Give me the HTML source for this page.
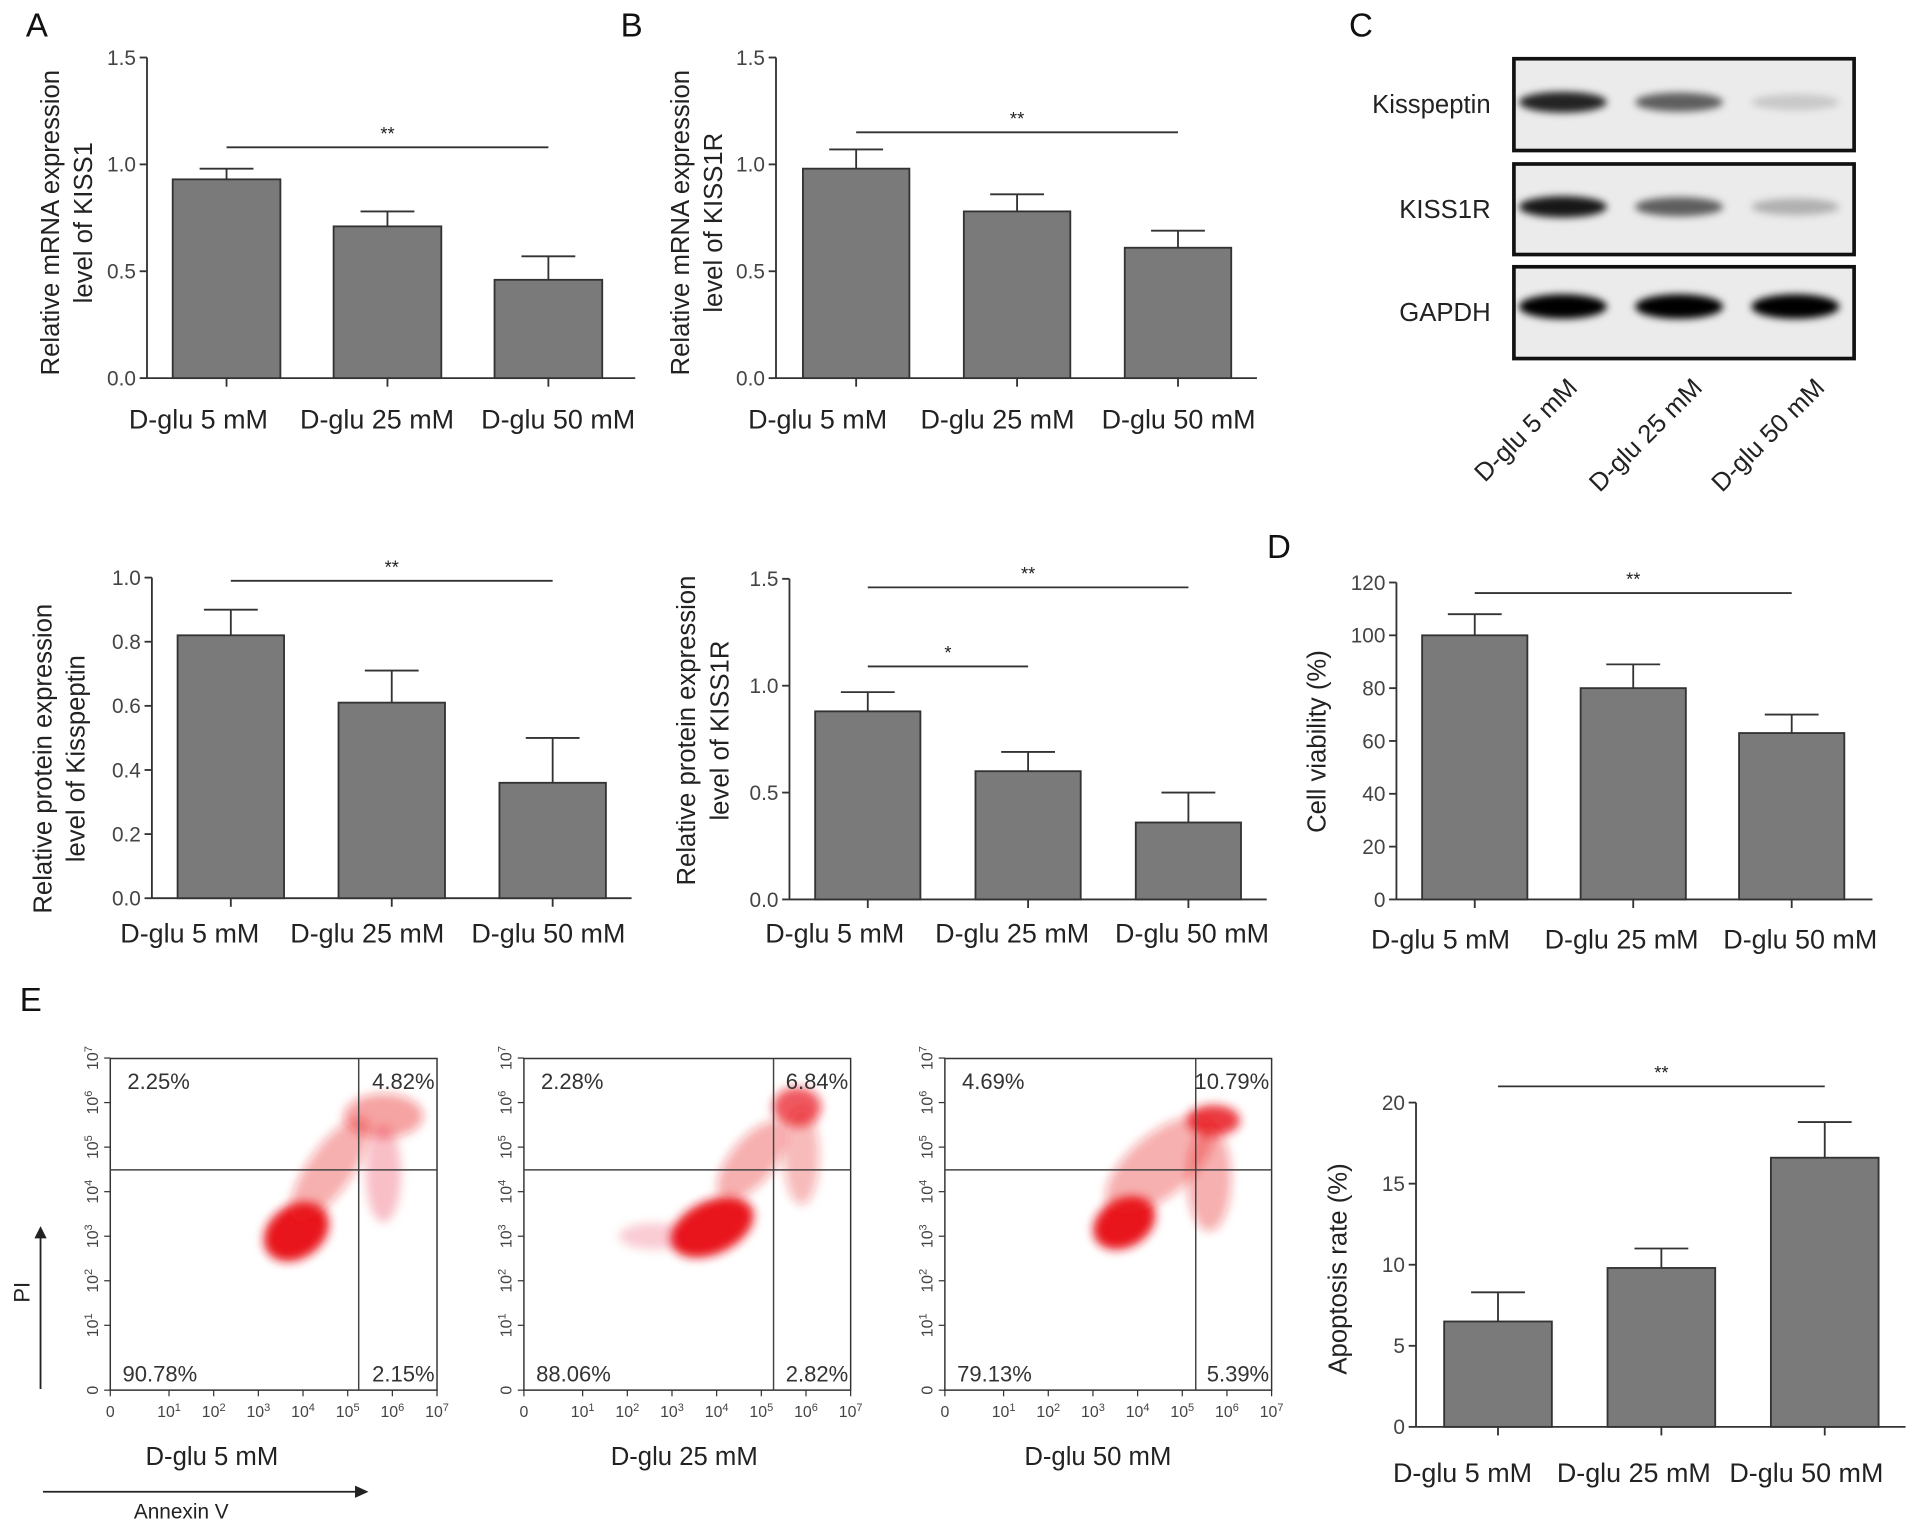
<!DOCTYPE html>
<html><head><meta charset="utf-8"><style>
html,body{margin:0;padding:0;background:#fff;}
svg{display:block;font-family:"Liberation Sans",Arial,sans-serif;}
</style></head><body>
<svg id="fig" width="1913" height="1526" viewBox="0 0 1563 1247" xmlns="http://www.w3.org/2000/svg">
<defs>
<filter id="blur6" x="-50%" y="-50%" width="200%" height="200%"><feGaussianBlur stdDeviation="4"/></filter>
<filter id="blur3" x="-50%" y="-50%" width="200%" height="200%"><feGaussianBlur stdDeviation="3"/></filter>
</defs>
<g id="root"></g>
</svg>
<script>
// ===== data =====
const categories = ["D-glu 5 mM","D-glu 25 mM","D-glu 50 mM"];
const kiss1Mrna = [0.93,0.71,0.46];
const kiss1MrnaErr = [0.98,0.78,0.57];
const kiss1rMrna = [0.98,0.78,0.61];
const kiss1rMrnaErr = [1.07,0.86,0.69];
const kissProt = [0.82,0.61,0.36];
const kissProtErr = [0.90,0.71,0.50];
const kiss1rProt = [0.88,0.60,0.36];
const kiss1rProtErr = [0.97,0.69,0.50];
const viability = [100,80,63];
const viabilityErr = [108,89,70];
const apoptosis = [6.5,9.8,16.6];
const apoptosisErr = [8.3,11.0,18.8];
const ticks15 = ["0.0","0.5","1.0","1.5"];
const ticks10 = ["0.0","0.2","0.4","0.6","0.8","1.0"];
const ticks120 = ["0","20","40","60","80","100","120"];
const ticks20 = ["0","5","10","15","20"];
const blotProteins = ["Kisspeptin","KISS1R","GAPDH"];
const kissBand = [0.85,0.6,0.15];
const kiss1rBand = [0.9,0.6,0.25];
const gapdhBand = [1.0,1.0,1.0];
const flowQuadrants = [["2.25%","4.82%","90.78%","2.15%"],["2.28%","6.84%","88.06%","2.82%"],["4.69%","10.79%","79.13%","5.39%"]];
// clusters: [x decade, y decade, spread x, spread y, rotation, opacity]
const flowClusters1 = [[3.85,3.1,0.8,0.6,-35,1],[4.6,4.5,1.4,0.5,-55,0.35],[5.8,5.7,0.9,0.5,0,0.4],[5.8,4.4,0.4,1.1,0,0.25]];
const flowClusters2 = [[3.9,3.2,1.0,0.6,-25,1],[5.8,5.9,0.55,0.45,0,0.7],[4.8,4.7,1.1,0.5,-50,0.35],[2.6,3.0,0.8,0.3,0,0.2],[5.9,4.8,0.4,1.1,0,0.3]];
const flowClusters3 = [[3.7,3.3,0.75,0.55,-30,1],[5.7,5.6,0.6,0.35,0,0.85],[4.5,4.6,1.5,0.7,-40,0.35],[5.6,4.3,0.5,1.2,0,0.35]];
const flowTitles = ["D-glu 5 mM","D-glu 25 mM","D-glu 50 mM"];
const decadeLabels = ["0","1","2","3","4","5","6","7"];

const NS="http://www.w3.org/2000/svg";
const root=document.getElementById('root');
function mk(tag,attrs,parent){const e=document.createElementNS(NS,tag);for(const k in attrs)e.setAttribute(k,attrs[k]);(parent||root).appendChild(e);return e;}
function txt(s,attrs,parent){const e=mk('text',attrs,parent);e.textContent=s;return e;}

function barChart(cfg){
  const g=mk('g',{});
  
  
  const y=v=>cfg.y0-(v-cfg.min)/(cfg.max-cfg.min)*(cfg.y0-cfg.y1);
  const ax=mk('line',{x1:cfg.ax,y1:cfg.y1,x2:cfg.ax,y2:cfg.y0,stroke:'#333','stroke-width':1.5},g);
  
  const xa=mk('line',{x1:cfg.ax,y1:cfg.y0,x2:cfg.xEnd,y2:cfg.y0,stroke:'#333','stroke-width':1.5},g);
  
  cfg.ticks.forEach(t=>{const v=parseFloat(t);const yy=y(v);
    mk('line',{x1:cfg.ax-6,y1:yy,x2:cfg.ax,y2:yy,stroke:'#333','stroke-width':1.5},g);
    const tl=txt(t,{x:cfg.ax-9,y:yy+6,'text-anchor':'end','font-size':17,fill:'#444'},g);
    
  });
  const step=cfg.barStep, bw=cfg.barW;
  cfg.values.forEach((v,i)=>{
    const x0=cfg.bar0+i*step, cx=x0+bw/2;
    const eb=mk('line',{x1:cx,y1:y(v),x2:cx,y2:y(cfg.err[i]),stroke:'#333','stroke-width':1.5},g);
    
    mk('line',{x1:cx-22,y1:y(cfg.err[i]),x2:cx+22,y2:y(cfg.err[i]),stroke:'#333','stroke-width':1.5},g);
    const r=mk('rect',{x:x0,y:y(v),width:bw,height:cfg.y0-y(v),fill:'#7a7a7a',stroke:'#333','stroke-width':1.5},g);
    
    mk('line',{x1:cx,y1:cfg.y0,x2:cx,y2:cfg.y0+7,stroke:'#333','stroke-width':1.5},g);
    const cl=txt(categories[i],{x:cfg.labX[i],y:cfg.labY,'text-anchor':'middle','font-size':22,fill:'#222'},g);
    
  });
  (cfg.sig||[]).forEach(s=>{
    const c1=cfg.bar0+s[0]*step+bw/2, c2=cfg.bar0+s[1]*step+bw/2, yy=y(s[2]);
    const sl=mk('line',{x1:c1,y1:yy,x2:c2,y2:yy,stroke:'#333','stroke-width':1.5},g);
    
    const st=txt(s[3],{x:(c1+c2)/2,y:yy-6,'text-anchor':'middle','font-size':15,fill:'#222'},g);
    
  });
  const tg=mk('g',{transform:`translate(${cfg.titleX},${cfg.titleY}) rotate(-90)`},g);
  cfg.title.forEach((line,k)=>{
    const t=txt(line,{x:0,y:k*27,'text-anchor':'middle','font-size':21,fill:'#222'},tg);
    
  });
}

barChart({name:'chart-a-kiss1-mrna',ax:120,xEnd:519,y0:309,y1:47,min:0,max:1.5,ticks:ticks15,values:kiss1Mrna,err:kiss1MrnaErr,bar0:141,barW:88,barStep:131.5,labX:[162,308,456],labY:350,sig:[[0,2,1.08,'**']],title:['Relative mRNA expression','level of KISS1'],titleX:48,titleY:182});
barChart({name:'chart-b-kiss1r-mrna',ax:634,xEnd:1027,y0:309,y1:47,min:0,max:1.5,ticks:ticks15,values:kiss1rMrna,err:kiss1rMrnaErr,bar0:656,barW:87,barStep:131.5,labX:[668,815,963],labY:350,sig:[[0,2,1.15,'**']],title:['Relative mRNA expression','level of KISS1R'],titleX:563,titleY:182});
barChart({name:'chart-kisspeptin-protein',ax:124,xEnd:516,y0:734,y1:472,min:0,max:1.0,ticks:ticks10,values:kissProt,err:kissProtErr,bar0:145,barW:87,barStep:131.5,labX:[155,300,448],labY:770,sig:[[0,2,0.99,'**']],title:['Relative protein expression','level of Kisspeptin'],titleX:42,titleY:620});
barChart({name:'chart-kiss1r-protein',ax:645,xEnd:1035,y0:735,y1:473,min:0,max:1.5,ticks:ticks15,values:kiss1rProt,err:kiss1rProtErr,bar0:666,barW:86,barStep:131,labX:[682,827,974],labY:770,sig:[[0,2,1.46,'**'],[0,1,1.09,'*']],title:['Relative protein expression','level of KISS1R'],titleX:568,titleY:597});
barChart({name:'chart-d-cell-viability',ax:1141,xEnd:1530,y0:735,y1:476,min:0,max:120,ticks:ticks120,values:viability,err:viabilityErr,bar0:1162,barW:86,barStep:129.5,labX:[1177,1325,1471],labY:775,sig:[[0,2,116,'**']],title:['Cell viability (%)'],titleX:1083,titleY:606});
barChart({name:'chart-e-apoptosis-rate',ax:1157,xEnd:1557,y0:1166,y1:901,min:0,max:20,ticks:ticks20,values:apoptosis,err:apoptosisErr,bar0:1180,barW:88,barStep:133.5,labX:[1195,1335,1476],labY:1211,sig:[[0,2,21,'**']],title:['Apoptosis rate (%)'],titleX:1100,titleY:1037});

// panel letters
[['A',30,30],['B',516,30],['C',1112,30],['D',1045,456],['E',25,826]].forEach(l=>{
  const t=txt(l[0],{x:l[1],y:l[2],'font-size':27,fill:'#111','text-anchor':'middle'});
  
});

// ===== western blot =====
const blot=mk('g',{});


const boxes=[[48,123],[134,208],[218,293]];
const bandSets=[kissBand,kiss1rBand,gapdhBand];
const lanes=[1277,1372,1467];
boxes.forEach((b,i)=>{
  const r=mk('rect',{x:1237,y:b[0],width:278,height:b[1]-b[0],fill:'#ebebeb',stroke:'#111','stroke-width':3},blot);
  
  const lab=txt(blotProteins[i],{x:1218,y:(b[0]+b[1])/2+7,'text-anchor':'end','font-size':21,fill:'#222'},blot);
  
  bandSets[i].forEach((v,j)=>{
    const e=mk('ellipse',{cx:lanes[j],cy:(b[0]+b[1])/2-(i==2?5:2),rx:36,ry:i==2?10:6+3*v,fill:'#000','fill-opacity':v,filter:'url(#blur3)'},blot);
    
  });
});
categories.forEach((c,j)=>{
  const t=txt(c,{x:0,y:0,'text-anchor':'end','font-size':21,fill:'#222',transform:`translate(${[1290,1392,1492][j]},${318}) rotate(-45)`},blot);
  
});

// ===== flow cytometry =====
const flowLefts=[90,428,772];
const flowVLines=[293,632,977];
const clusterSets=[flowClusters1,flowClusters2,flowClusters3];
const fTop=865,fBot=1136,fW=267;
function fx(left,d){return left+(d<=1?d*48:48+(d-1)*36.5);}
function fy(d){return fBot-(d<=1?d*53:53+(d-1)*36.4);}
flowLefts.forEach((L,p)=>{
  const g=mk('g',{});
  
  
  clusterSets[p].forEach(c=>{
    const cx=fx(L,c[0]),cy=fy(c[1]);
    const e=mk('ellipse',{cx:cx,cy:cy,rx:c[2]*36,ry:c[3]*36,fill:'#e8141c','fill-opacity':c[5],transform:`rotate(${c[4]} ${cx} ${cy})`,filter:'url(#blur6)'},g);
    
  });
  const box=mk('path',{d:`M${L} ${fTop}H${L+fW}V${fBot}H${L}Z`,fill:'none',stroke:'#333','stroke-width':1.2},g);
  
  const hl=mk('line',{x1:L,y1:956,x2:L+fW,y2:956,stroke:'#444','stroke-width':1.2},g);
  
  const vl=mk('line',{x1:flowVLines[p],y1:fTop,x2:flowVLines[p],y2:fBot,stroke:'#444','stroke-width':1.2},g);
  
  decadeLabels.forEach((d,k)=>{
    const xx=fx(L,k), yy=fy(k);
    mk('line',{x1:xx,y1:fBot,x2:xx,y2:fBot+5,stroke:'#333'},g);
    mk('line',{x1:L-5,y1:yy,x2:L,y2:yy,stroke:'#333'},g);
    const xl=mk('text',{x:xx,y:fBot+22,'text-anchor':'middle','font-size':13,fill:'#444'},g);
    if(k==0){xl.textContent='0';}else{xl.textContent='10';const s=mk('tspan',{dy:-5,'font-size':9},xl);s.textContent=d;}
    
    const yl=mk('text',{x:0,y:0,'text-anchor':'middle','font-size':13,fill:'#444',transform:`translate(${L-10},${yy}) rotate(-90)`},g);
    if(k==0){yl.textContent='0';}else{yl.textContent='10';const s=mk('tspan',{dy:-5,'font-size':9},yl);s.textContent=d;}
    
  });
  const q=flowQuadrants[p];
  const pos=[[L+14,890,'start'],[L+fW-2,890,'end'],[L+10,1129,'start'],[L+fW-2,1129,'end']];
  q.forEach((s,k)=>{const t=txt(s,{x:pos[k][0],y:pos[k][1],'text-anchor':pos[k][2],'font-size':18,fill:'#333'},g);
    });
  const tt=txt(flowTitles[p],{x:[173,559,897][p],y:1197,'text-anchor':'middle','font-size':21,fill:'#222'},g);
  
});
// axis arrows
const arrows=mk('g',{});


mk('line',{x1:33,y1:1135,x2:33,y2:1008,stroke:'#222','stroke-width':1.5},arrows);
mk('path',{d:'M28 1012 L33 1002 L38 1012 Z',fill:'#222'},arrows);
mk('line',{x1:35,y1:1219,x2:293,y2:1219,stroke:'#222','stroke-width':1.5},arrows);
mk('path',{d:'M290 1214 L301 1219 L290 1224 Z',fill:'#222'},arrows);
const pi=txt('PI',{x:0,y:0,'text-anchor':'middle','font-size':18,fill:'#222',transform:'translate(24,1056) rotate(-90)'},arrows);

const an=txt('Annexin V',{x:148,y:1241,'text-anchor':'middle','font-size':17,fill:'#222'},arrows);

</script>
</body></html>
